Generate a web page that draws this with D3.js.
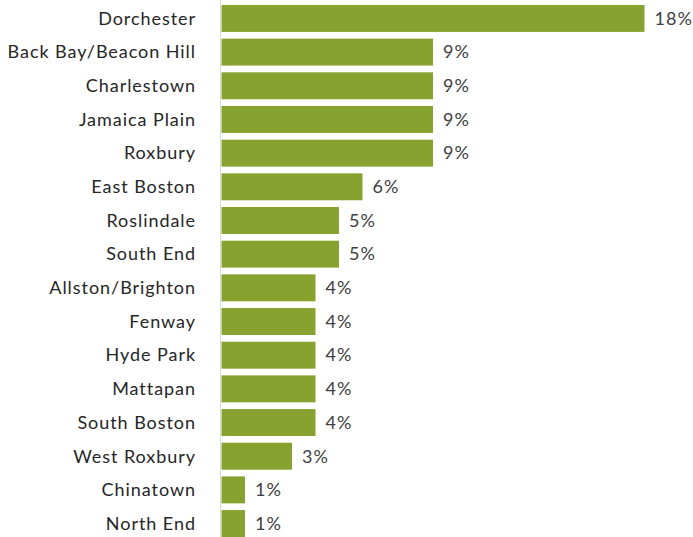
<!DOCTYPE html>
<html>
<head>
<meta charset="utf-8">
<script src="https://d3js.org/d3.v7.min.js"></script>
<style>
  body { margin: 0; background: #fff; }
  text { font-family: Lato, "Open Sans", sans-serif; }
</style>
</head>
<body>
<script>
// data
var neighborhoods = ["Dorchester", "Back Bay/Beacon Hill", "Charlestown", "Jamaica Plain",
    "Roxbury", "East Boston", "Roslindale", "South End", "Allston/Brighton", "Fenway",
    "Hyde Park", "Mattapan", "South Boston", "West Roxbury", "Chinatown", "North End"];
var shares = [18, 9, 9, 9, 9, 6, 5, 5, 4, 4, 4, 4, 4, 3, 1, 1];
var shareLabels = ["18%", "9%", "9%", "9%", "9%", "6%", "5%", "5%", "4%", "4%", "4%", "4%", "4%", "3%", "1%", "1%"];

var width = 693,
    height = 537;

var svg = d3.select("body").append("svg")
    .attr("width", width)
    .attr("height", height);

var x = d3.scaleLinear()
    .domain([0, 18])
    .range([221.5, 644.5]);

var y = d3.scaleBand()
    .domain(neighborhoods)
    .range([1.6, 540.4])
    .paddingInner(0.2)
    .paddingOuter(0.1);

// bars
svg.append("g")
  .selectAll("rect")
    .data(neighborhoods)
  .enter().append("rect")
    .attr("x", x(0))
    .attr("y", function(d) { return y(d); })
    .attr("width", function(d, i) { return x(shares[i]) - x(0); })
    .attr("height", y.bandwidth())
    .style("fill", "#87A22F");

// axis line
svg.append("line")
    .attr("x1", 220.5).attr("x2", 220.5)
    .attr("y1", 0).attr("y2", height)
    .style("stroke", "#d9d9d9")
    .style("stroke-width", 1);

// category labels
svg.append("g")
  .selectAll("text")
    .data(neighborhoods)
  .enter().append("text")
    .attr("x", 196)
    .attr("y", function(d) { return y(d) + y.bandwidth() / 2; })
    .attr("dy", "0.35em")
    .attr("text-anchor", "end")
    .style("font-size", "18px")
    .style("letter-spacing", "0.95px")
    .style("fill", "#262626")
    .text(function(d) { return d; });

// value labels
svg.append("g")
  .selectAll("text")
    .data(neighborhoods)
  .enter().append("text")
    .attr("x", function(d, i) { return x(shares[i]) + 10; })
    .attr("y", function(d) { return y(d) + y.bandwidth() / 2; })
    .attr("dy", "0.35em")
    .style("font-size", "18px")
    .style("letter-spacing", "1.1px")
    .style("fill", "#404040")
    .text(function(d, i) { return shareLabels[i]; });
</script>
</body>
</html>
